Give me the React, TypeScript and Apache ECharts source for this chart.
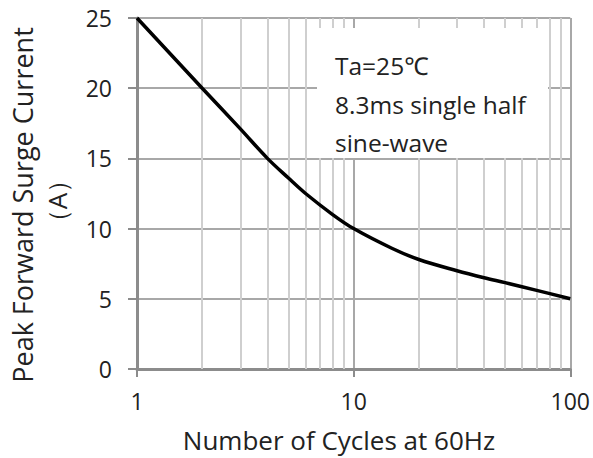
import React, { useEffect, useRef } from "react";
import * as echarts from "echarts";

const cycles = [1, 2, 3, 4, 5, 6, 8, 10, 15, 20, 30, 40, 50, 70, 100];
const current = [25, 20, 17.1, 15.0, 13.6, 12.5, 11.0, 10, 8.6, 7.8, 7.0, 6.5, 6.15, 5.6, 5];
const minorX = [2, 3, 4, 5, 6, 7, 8, 9, 20, 30, 40, 50, 60, 70, 80, 90];
const noteLines = ["Ta=25℃", "8.3ms single half", "sine-wave"];
const xName = "Number of Cycles at 60Hz";
const yName1 = "Peak Forward Surge Current";
const yName2 = "（A）";

const FONT = "'Open Sans', 'Noto Sans', sans-serif";

export default function App() {
  const ref = useRef<HTMLDivElement>(null);
  useEffect(() => {
    if (!ref.current) return;
    const chart = echarts.init(ref.current, undefined, { renderer: "svg" });
    chart.setOption({
      animation: false,
      backgroundColor: "#fff",
      grid: { left: 137, top: 18, right: 22, bottom: 89, containLabel: false },
      xAxis: {
        type: "log",
        logBase: 10,
        min: 1,
        max: 100,
        axisLine: { show: true, lineStyle: { color: "#8c8c8c", width: 3 } },
        axisTick: { show: true, length: 8, lineStyle: { color: "#8c8c8c", width: 2 } },
        axisLabel: { color: "#222", fontSize: 23, fontFamily: FONT, margin: 20 },
        splitLine: { show: true, lineStyle: { color: "#a8a8a8", width: 2 } },
        minorTick: { show: false },
      },
      yAxis: {
        type: "value",
        min: 0,
        max: 25,
        interval: 5,
        axisLine: { show: true, lineStyle: { color: "#8c8c8c", width: 3 } },
        axisTick: { show: true, length: 9, lineStyle: { color: "#8c8c8c", width: 2 } },
        axisLabel: { color: "#222", fontSize: 23, fontFamily: FONT, margin: 25 },
        splitLine: { show: true, lineStyle: { color: "#a8a8a8", width: 2 } },
      },
      series: [
        {
          type: "line",
          data: [[1, 0]],
          symbol: "none",
          lineStyle: { opacity: 0 },
          z: 1,
          silent: true,
          markLine: {
            silent: true,
            symbol: "none",
            label: { show: false },
            lineStyle: { color: "#cfcfcf", width: 2, type: "solid" },
            data: minorX.map((v) => ({ xAxis: v })),
          },
        },
        {
          type: "line",
          data: cycles.map((c, i) => [c, current[i]]),
          smooth: 0.35,
          symbol: "none",
          lineStyle: { color: "#000", width: 3.5 },
          z: 5,
        },
      ],
      graphic: [
        {
          type: "rect",
          z: 10,
          shape: { x: 317, y: 28, width: 231, height: 130 },
          style: { fill: "#fff" },
        },
        ...noteLines.map((t, i) => ({
          type: "text",
          z: 11,
          x: 335,
          y: [65, 104, 142][i],
          style: {
            text: t,
            fill: "#222",
            font: `24.5px ${FONT}`,
            verticalAlign: "middle",
            align: "left",
          },
        })),
        {
          type: "text",
          x: 339,
          y: 440,
          style: { text: xName, fill: "#222", font: `26px ${FONT}`, align: "center", verticalAlign: "middle" },
        },
        {
          type: "text",
          x: 22,
          y: 205,
          rotation: Math.PI / 2,
          style: { text: yName1, fill: "#222", font: `27px ${FONT}`, align: "center", verticalAlign: "middle" },
        },
        {
          type: "text",
          x: 57,
          y: 201,
          rotation: Math.PI / 2,
          style: { text: yName2, fill: "#222", font: `26px ${FONT}`, align: "center", verticalAlign: "middle" },
        },
      ],
    });
    return () => chart.dispose();
  }, []);
  return <div ref={ref} style={{ width: 593, height: 458, position: "absolute", left: 0, top: 0 }} />;
}
